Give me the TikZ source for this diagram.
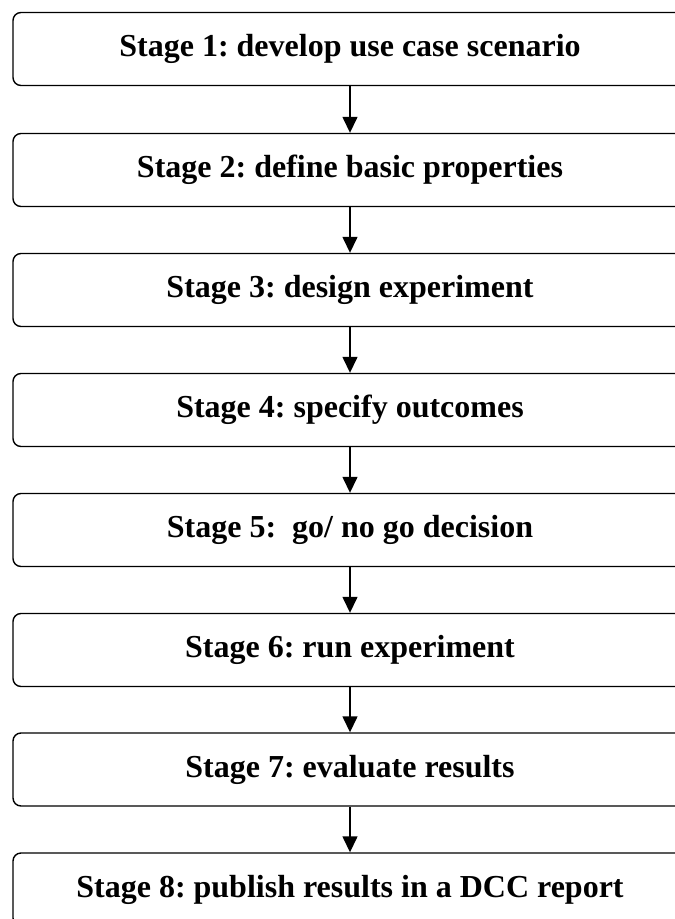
\documentclass[tikz,border=0pt]{standalone}
\usepackage{fontspec}
\setmainfont{Liberation Serif}
\usetikzlibrary{arrows.meta}
\frenchspacing
\begin{document}
\begin{tikzpicture}[x=1pt,y=-1pt,
  stagebox/.style={draw, line width=1.4pt, rounded corners=8pt, minimum width=674pt, minimum height=73pt,
    inner sep=0pt, font=\bfseries\fontsize{32}{38}\selectfont, text height=22pt, text depth=7pt},
  flow/.style={line width=1.4pt, -{Triangle[width=15pt,length=16pt]}}]
\useasboundingbox (0,0) rectangle (675,919);
\clip (0,0) rectangle (675,919);
\node[stagebox] (s1) at (350,49) {Stage 1: develop use case scenario};
\node[stagebox] (s2) at (350,170) {Stage 2: define basic properties};
\node[stagebox] (s3) at (350,290) {Stage 3: design experiment};
\node[stagebox] (s4) at (350,410) {Stage 4: specify outcomes};
\node[stagebox] (s5) at (350,530) {Stage 5: \ go/ no go decision};
\node[stagebox] (s6) at (350,650) {Stage 6: run experiment};
\node[stagebox] (s7) at (350,769.5) {Stage 7: evaluate results};
\node[stagebox] (s8) at (350,889.5) {Stage 8: publish results in a DCC report};
\foreach \a/\b in {s1/s2,s2/s3,s3/s4,s4/s5,s5/s6,s6/s7,s7/s8}
  \draw[flow] (\a.south) -- (\b.north);
\end{tikzpicture}
\end{document}
